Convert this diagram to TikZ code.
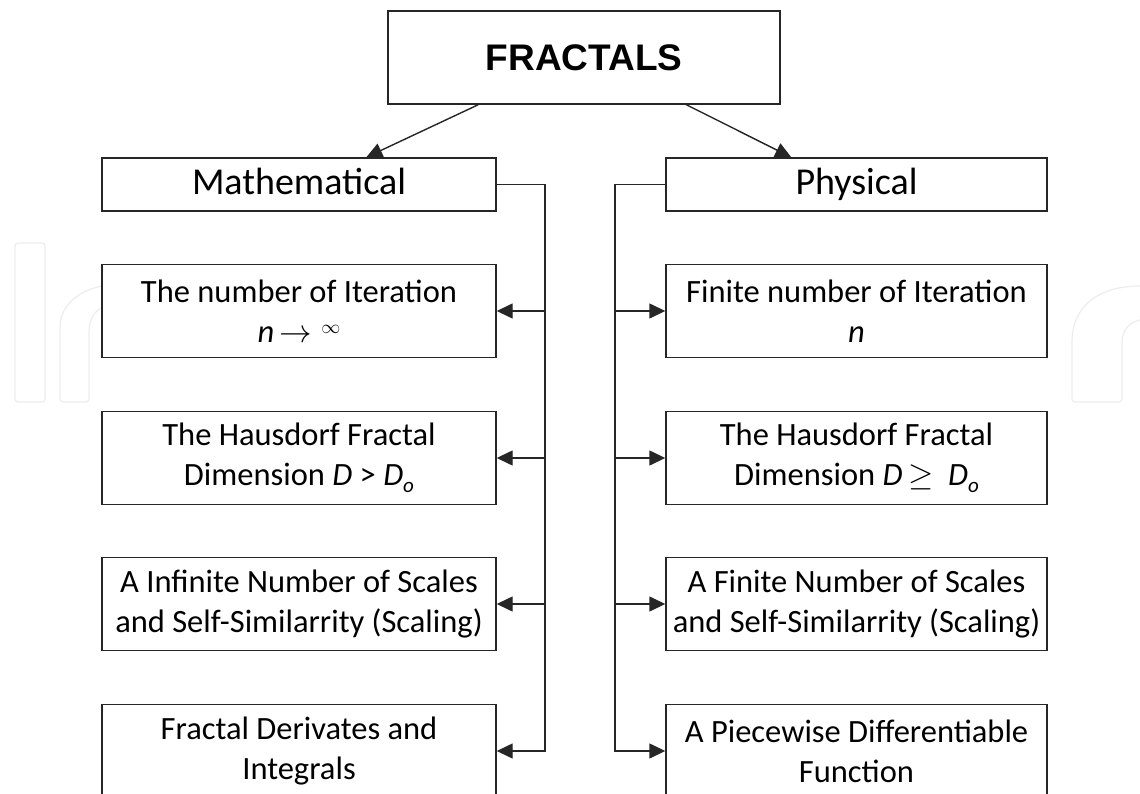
\RequirePackage{fix-cm}
\documentclass[tikz,border=0pt]{standalone}
\usepackage{fontspec}
\setmainfont{Carlito}
\newfontfamily\arialfont{Liberation Sans}
\usetikzlibrary{arrows.meta,calc}
\definecolor{linec}{HTML}{262626}
\definecolor{wmark}{HTML}{EDEDED}
\newcommand\myBody{\fontsize{32.5}{40}\selectfont}
\newcommand\myHead{\fontsize{38}{44}\selectfont}
\newcommand\Dzero{\textit{D}\raisebox{-0.2em}{\fontsize{21}{21}\selectfont\itshape o}}
\newcommand\myInf{\hspace{9pt}\raisebox{8.5pt}{\fontsize{19}{19}\selectfont$\infty$}}
\begin{document}
\begin{tikzpicture}[x=1pt,y=-1pt,
  box/.style={draw=linec,line width=1.4pt,fill=white,inner sep=0pt,align=center,font=\myBody,text=black},
  lbox/.style={box,minimum width=394pt,minimum height=93pt},
  rbox/.style={box,minimum width=381pt,minimum height=93pt},
  hbox/.style={box,minimum height=53pt,font=\myHead,text height=27pt,text depth=7pt},
  conn/.style={draw=linec,line width=1.4pt},
  arr/.style={conn,-{Triangle[length=16pt,width=15pt]}},
  wm/.style={draw=wmark,line width=1.2pt,rounded corners=3pt}]
\useasboundingbox (0,0) rectangle (1140,794);
\clip (0,0) rectangle (1140,794);
\fill[white] (0,0) rectangle (1140,794);
% faint watermark
\draw[wm] (15,243) rectangle (45,402);
\draw[wm] (102,286) .. controls (80,290) and (60,305) .. (60,330) -- (60,402) -- (89,402) -- (89,335) .. controls (89,320) and (95,310) .. (102,308);
\draw[wm] (1140,286) .. controls (1100,286) and (1072,305) .. (1072,345) -- (1072,402) -- (1122,402) -- (1122,345) .. controls (1122,330) and (1130,322) .. (1140,320);
% nodes
\node[box,minimum width=392pt,minimum height=93pt,font=\arialfont\bfseries\fontsize{37}{44}\selectfont] (top) at (584,57.5) {FRACTALS};
\node[hbox,minimum width=394pt] (math) at (299,184.5) {Mathematical};
\node[hbox,minimum width=381pt] (phys) at (856.5,184.5) {Physical};
\node[lbox] (L1) at (299,311) {The number of Iteration\\\textit{n}\,$\rightarrow$\myInf};
\node[lbox] (L2) at (299,458) {The Hausdorf Fractal\\Dimension \textit{D} > \Dzero};
\node[lbox] (L3) at (299,604) {A Infinite Number of Scales\\and Self-Similarrity (Scaling)};
\node[lbox] (L4) at (299,751) {Fractal Derivates and\\Integrals};
\node[rbox] (R1) at (856.5,311) {Finite number of Iteration\\\textit{n}};
\node[rbox] (R2) at (856.5,458) {The Hausdorf Fractal\\Dimension \textit{D}\,$\geq$\ \ \Dzero};
\node[rbox] (R3) at (856.5,604) {A Finite Number of Scales\\and Self-Similarrity (Scaling)};
\node[rbox] (R4) at (856.5,751) {A Piecewise Differentiable\\Function};
\coordinate (lt) at (545,0);
\coordinate (rt) at (615,0);
% connectors
\draw[arr] ($(top.south west)+(91,0)$) -- ($(math.north west)+(265,0)$);
\draw[arr] ($(top.south west)+(299,0)$) -- ($(phys.north west)+(126,0)$);
\draw[arr] (math.east) -| (L4.east -| lt) -- (L4.east);
\draw[arr] (L1.east -| lt) -- (L1.east);
\draw[arr] (L2.east -| lt) -- (L2.east);
\draw[arr] (L3.east -| lt) -- (L3.east);
\draw[arr] (phys.west) -| (R4.west -| rt) -- (R4.west);
\draw[arr] (R1.west -| rt) -- (R1.west);
\draw[arr] (R2.west -| rt) -- (R2.west);
\draw[arr] (R3.west -| rt) -- (R3.west);
\end{tikzpicture}
\end{document}
